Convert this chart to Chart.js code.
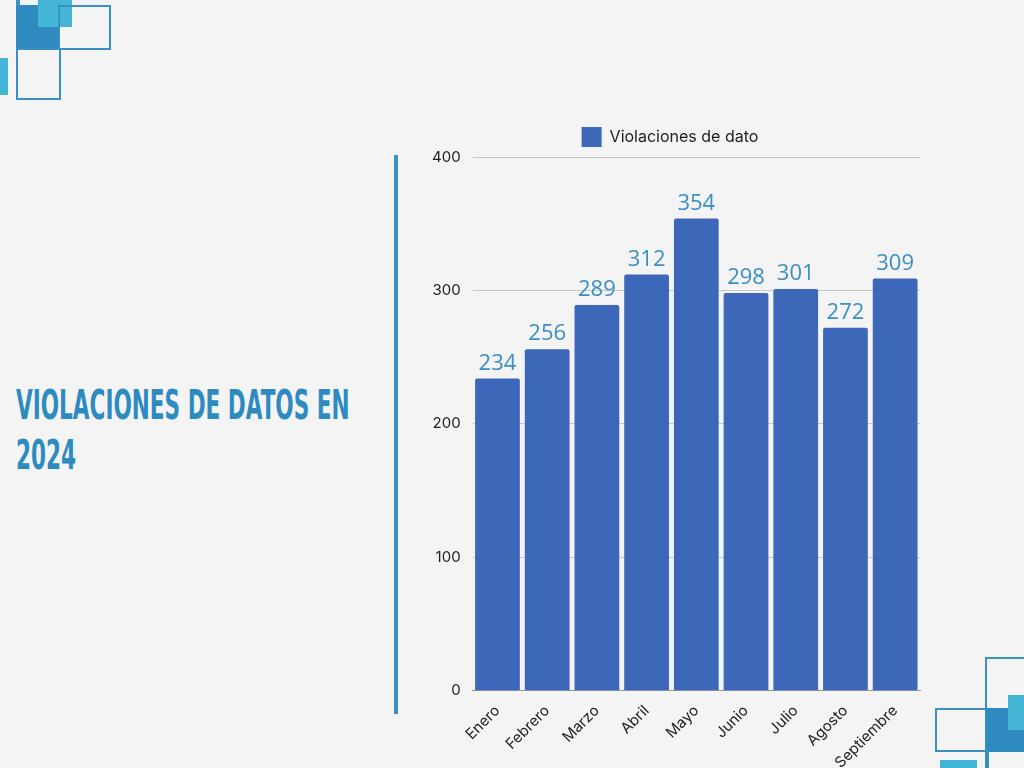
<!DOCTYPE html><html><head><meta charset="utf-8">
<script src="https://cdn.jsdelivr.net/npm/chart.js@4"></script>
<style>
body{margin:0;width:1024px;height:768px;background:#f4f4f4;position:relative;overflow:hidden;font-family:Inter,sans-serif}
.d{position:absolute;box-sizing:border-box}
.o{border:2px solid #3a8fc4}
.f{background:#2f8abf}
.l{background:#45b5d6}
#title{position:absolute;left:16px;top:380px;font-family:"DejaVu Sans Condensed",sans-serif;font-weight:bold;font-size:40px;line-height:50px;color:#2e8bc0;width:590px;transform:scaleX(0.6);transform-origin:left top;white-space:nowrap}
#wrap{position:absolute;left:420px;top:115px;width:510px;height:660px}
</style></head><body>
<div class="d f" style="left:16px;top:5px;width:44px;height:44px"></div>
<div class="d l" style="left:38px;top:0;width:34px;height:27px"></div>
<div class="d o" style="left:58px;top:5px;width:53px;height:45px"></div>
<div class="d o" style="left:16px;top:48px;width:45px;height:52px"></div>
<div class="d o" style="left:16px;top:-5px;width:2px;height:12px"></div>
<div class="d l" style="left:0;top:58px;width:8px;height:37px"></div>
<div class="d o" style="left:985px;top:657px;width:45px;height:53px"></div>
<div class="d o" style="left:935px;top:708px;width:52px;height:44px"></div>
<div class="d f" style="left:986px;top:708px;width:40px;height:44px"></div>
<div class="d l" style="left:1008px;top:695px;width:20px;height:35px"></div>
<div class="d o" style="left:985px;top:750px;width:2px;height:20px"></div>
<div class="d l" style="left:940px;top:760px;width:37px;height:10px"></div>
<div style="position:absolute;left:394px;top:155px;width:4px;height:559px;background:#3a8fc4"></div>
<div id="title">VIOLACIONES DE DATOS EN<br>2024</div>
<div id="wrap"><canvas id="c"></canvas></div>
<script>
const categories=["Enero","Febrero","Marzo","Abril","Mayo","Junio","Julio","Agosto","Septiembre"];
const values=[234,256,289,312,354,298,301,272,309];
const seriesName="Violaciones de dato";
const labelsPlugin={id:'lbl',afterDatasetsDraw(ch){
  const c=ch.ctx;const m=ch.getDatasetMeta(0);
  c.save();c.font='22px "Open Sans"';c.fillStyle='#3a8fc4';c.textAlign='center';c.textBaseline='bottom';
  m.data.forEach((b,i)=>c.fillText(String(values[i]),b.x,b.y-4));
  c.restore();}};
const config={
  type:'bar',
  data:{labels:categories,datasets:[{label:seriesName,data:values,backgroundColor:'#3d67b8',borderRadius:2,categoryPercentage:0.9,barPercentage:1}]},
  options:{
    responsive:true,maintainAspectRatio:false,animation:false,
    layout:{padding:{top:0,right:10}},
    plugins:{
      legend:{labels:{boxWidth:20,boxHeight:20,color:'#222',font:{size:16,family:'Inter'},padding:12}},
      tooltip:{enabled:false}
    },
    scales:{
      y:{min:0,max:400,ticks:{stepSize:100,color:'#222',font:{size:15,family:'Inter'},padding:12},grid:{color:'#c8c8c8',drawTicks:false},border:{display:false}},
      x:{ticks:{color:'#222',font:{size:15,family:'Inter'},maxRotation:45,minRotation:45},grid:{display:false},border:{color:'#999'}}
    }
  },
  plugins:[labelsPlugin]
};
new Chart(document.getElementById('c'),config);
</script></body></html>
